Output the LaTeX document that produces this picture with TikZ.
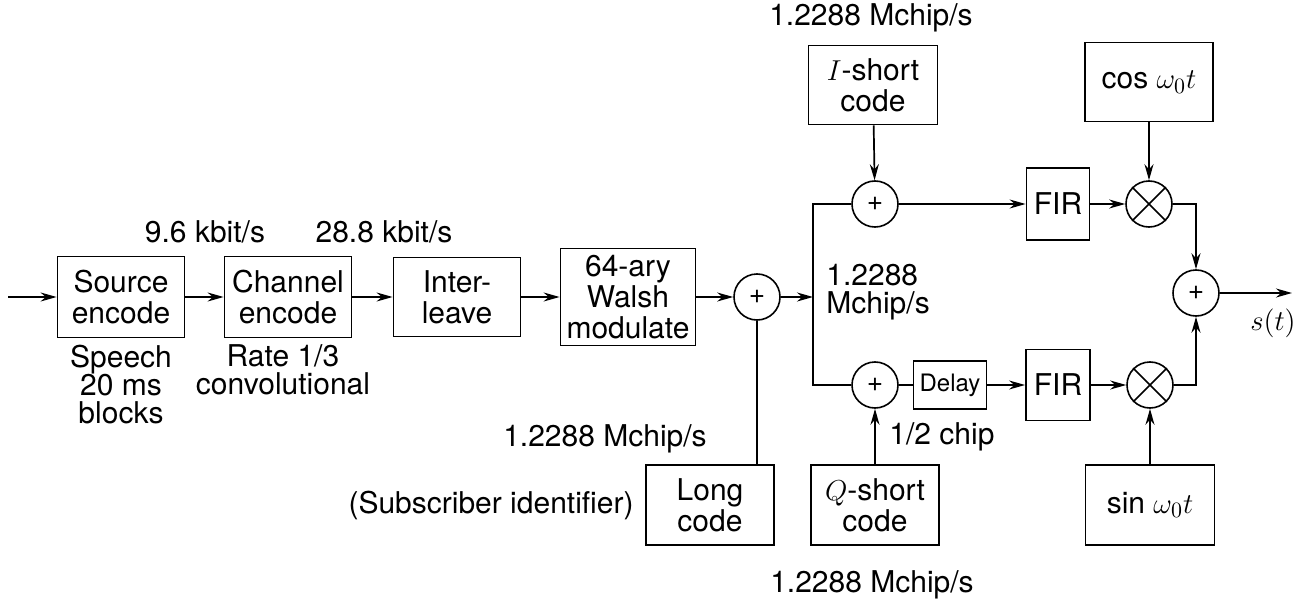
\documentclass[tikz,border=0pt]{standalone}
\usepackage{fontspec}
\setmainfont{TeX Gyre Heros}
\usetikzlibrary{arrows.meta,positioning,calc}
\tikzset{
  blk/.style={draw, line width=0.9pt, inner sep=2pt, align=center,
              font=\fontsize{15}{15.5}\selectfont},
  sumc/.style={draw, circle, line width=0.8pt, minimum size=23pt, inner sep=0pt,
               font=\fontsize{14}{14}\selectfont},
  mixc/.style={draw, circle, line width=0.8pt, minimum size=23pt, inner sep=0pt},
  lbl/.style={align=center, inner sep=0pt, font=\fontsize{15}{14}\selectfont},
  arr/.style={-{Stealth[length=8pt,width=4.5pt]}, line width=0.85pt},
  ln/.style={line width=0.85pt}}

\begin{document}
\begin{tikzpicture}[x=0.5pt,y=-0.5pt]
        \useasboundingbox (0,0) rectangle (1298,605);
        % main chain
        \coordinate (in) at (8,297);
        \node[blk, minimum width=63.5pt, minimum height=40.5pt] (src) at (121,297) {Source\\encode};
        \node[blk, minimum width=63.5pt, minimum height=40.5pt] (chn) at (288,297) {Channel\\encode};
        \node[blk, minimum width=63.5pt, minimum height=39.5pt] (ilv) at (457,297) {Inter-\\leave};
        \node[blk, minimum width=67.5pt, minimum height=48.5pt] (wal) at (628,297) {64-ary\\Walsh\\modulate};
        \node[sumc] (add1) at (757,297) {+};
        \coordinate (split) at (813,297);
        \node[blk, minimum width=64pt, minimum height=40pt] (lng) at (710,505) {Long\\code};
        % I branch
        \node[blk, minimum width=64.5pt, minimum height=39.5pt] (ishort) at (873,85) {$I$-short\\code};
        \node[sumc] (addI) at (875,204) {+};
        \node[blk, minimum width=31.5pt, minimum height=36pt] (firI) at (1058,204) {FIR};
        \node[mixc] (mxI) at (1149,204) {};
        \node[blk, minimum width=64pt, minimum height=39.5pt] (cosb) at (1149,82) {cos $\omega_0t$};
        % Q branch
        \node[blk, minimum width=64pt, minimum height=40pt] (qshort) at (875,505) {$Q$-short\\code};
        \node[sumc] (addQ) at (875,385) {+};
        \node[blk, minimum width=36.5pt, minimum height=24pt, font=\fontsize{12}{12}\selectfont] (dly) at (950,385) {Delay};
        \node[blk, minimum width=32pt, minimum height=35.5pt] (firQ) at (1058,385) {FIR};
        \node[mixc] (mxQ) at (1150,385) {};
        \node[blk, minimum width=64.5pt, minimum height=40pt] (sinb) at (1150,505) {sin $\omega_0t$};
        % output
        \node[sumc] (addO) at (1196,293) {+};
        \coordinate (out) at (1292,293);
        \draw[ln] (mxI.45) -- (mxI.225) (mxI.135) -- (mxI.315);
        \draw[ln] (mxQ.45) -- (mxQ.225) (mxQ.135) -- (mxQ.315);
        % labels
        \node[lbl] (r1) at (205,232) {9.6 kbit/s};
        \node[lbl] (r2) at (384,232) {28.8 kbit/s};
        \node[lbl] (spc) at (121,385) {Speech\\20 ms\\blocks};
        \node[lbl] (cnv) at (283,370) {Rate 1/3\\convolutional};
        \node[lbl] (rI) at (871,18) {1.2288 Mchip/s};
        \node[lbl, anchor=west, align=left] (rm) at (826,292) {1.2288\\Mchip/s};
        \node[lbl] (rL) at (605,439) {1.2288 Mchip/s};
        \node[lbl, anchor=east] (sub) at (634,505) {(Subscriber identifier)};
        \node[lbl, anchor=west] (hc) at (889,437) {1/2 chip};
        \node[lbl] (rQ) at (872,585) {1.2288 Mchip/s};
        \node[lbl] (st) at (1273,323) {$s(t)$};
        % connectors
        \draw[arr] (in) -- (src);
        \draw[arr] (src) -- (chn);
        \draw[arr] (chn) -- (ilv);
        \draw[arr] (ilv) -- (wal);
        \draw[arr] (wal) -- (add1);
        \draw[arr] (add1) -- (split);
        \draw[ln] (addI.west) -| (split) |- (addQ.west);
        \draw[ln] (add1.south) -- (add1.south |- lng.north);
        \draw[arr] (ishort) -- (addI);
        \draw[arr] (qshort) -- (addQ);
        \draw[arr] (addI) -- (firI);
        \draw[ln] (addQ) -- (dly);
        \draw[arr] (dly) -- (firQ);
        \draw[arr] (firI) -- (mxI);
        \draw[arr] (firQ) -- (mxQ);
        \draw[arr] (cosb) -- (mxI);
        \draw[arr] (sinb) -- (mxQ);
        \draw[arr] (mxI) -| (addO);
        \draw[arr] (mxQ) -| (addO);
        \draw[arr] (addO) -- (out);
      \end{tikzpicture}
\end{document}
